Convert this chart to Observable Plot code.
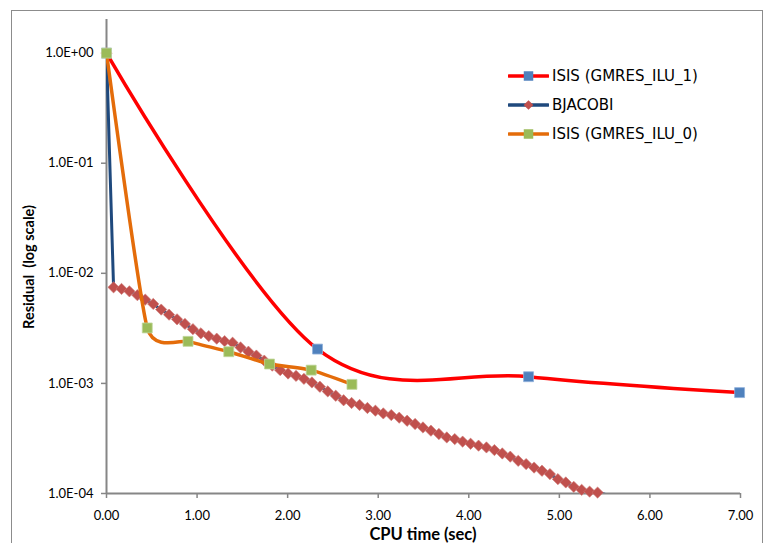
<!DOCTYPE html>
<html><head><meta charset="utf-8">
<script src="https://cdn.jsdelivr.net/npm/d3@7"></script>
<script src="https://cdn.jsdelivr.net/npm/@observablehq/plot@0.6"></script>
<style>
html,body{margin:0;padding:0;}
body{width:765px;height:543px;overflow:hidden;background:#fff;position:relative;font-family:Lato,"Open Sans",sans-serif;}
#frame{position:absolute;left:11px;top:10px;width:752px;height:560px;border:1px solid #8c8c8c;box-sizing:border-box;}
#chart{position:absolute;left:0;top:0;}
#ytitle{position:absolute;left:28px;top:267px;transform:translate(-50%,-50%) rotate(-90deg);font-weight:bold;font-size:14.5px;white-space:pre;}
#xtitle{position:absolute;left:423px;top:534px;transform:translate(-50%,-50%);font-weight:bold;font-size:16.5px;white-space:pre;}
#legend{position:absolute;left:508px;top:61px;font-size:15px;font-family:"DejaVu Sans",sans-serif;}
.item{display:flex;align-items:center;height:29px;}
.item svg{margin-right:3px;}
</style></head><body>
<div id="frame"></div>
<div id="chart"></div>
<div id="ytitle">Residual  (log scale)</div>
<div id="xtitle">CPU time (sec)</div>
<div id="legend"></div>
<script>
const seriesNames = ["ISIS (GMRES_ILU_1)", "BJACOBI", "ISIS (GMRES_ILU_0)"];
const lineColors = ["#FF0000", "#1F497D", "#E46C0A"];
const markerColors = ["#4F81BD", "#C0504D", "#9BBB59"];

const isis1Time = [0, 2.33, 4.66, 6.99];
const isis1Residual = [1.0, 2.05e-3, 1.15e-3, 8.25e-4];

const bjacobiTime = [0, 0.078, 0.166, 0.253, 0.341, 0.428, 0.516, 0.604, 0.691, 0.779, 0.866,
  0.954, 1.042, 1.129, 1.217, 1.304, 1.392, 1.480, 1.567, 1.655, 1.742,
  1.830, 1.918, 2.005, 2.093, 2.180, 2.268, 2.356, 2.443, 2.531, 2.618,
  2.706, 2.794, 2.881, 2.969, 3.056, 3.144, 3.232, 3.319, 3.407, 3.494,
  3.582, 3.670, 3.757, 3.845, 3.932, 4.020, 4.108, 4.195, 4.283, 4.370,
  4.458, 4.546, 4.633, 4.721, 4.808, 4.896, 4.984, 5.071, 5.159, 5.246,
  5.334, 5.422, 5.509, 5.597];
const bjacobiResidual = [1.0, 7.46e-3, 7.21e-3, 6.86e-3, 6.33e-3, 5.77e-3, 5.27e-3, 4.68e-3, 4.21e-3, 3.82e-3, 3.47e-3,
  3.11e-3, 2.85e-3, 2.69e-3, 2.55e-3, 2.42e-3, 2.34e-3, 2.12e-3, 1.94e-3, 1.79e-3, 1.61e-3,
  1.45e-3, 1.32e-3, 1.23e-3, 1.17e-3, 1.10e-3, 1.02e-3, 9.33e-4, 8.46e-4, 7.73e-4, 7.03e-4,
  6.64e-4, 6.37e-4, 5.98e-4, 5.65e-4, 5.34e-4, 5.16e-4, 4.88e-4, 4.58e-4, 4.28e-4, 3.98e-4,
  3.72e-4, 3.47e-4, 3.23e-4, 3.12e-4, 2.96e-4, 2.83e-4, 2.72e-4, 2.62e-4, 2.48e-4, 2.31e-4,
  2.16e-4, 1.98e-4, 1.85e-4, 1.72e-4, 1.61e-4, 1.50e-4, 1.35e-4, 1.26e-4, 1.15e-4, 1.08e-4,
  1.04e-4, 1.02e-4, 9.8e-5, 9.0e-5];

const isis0Time = [0, 0.45, 0.90, 1.35, 1.80, 2.26, 2.71];
const isis0Residual = [1.0, 3.19e-3, 2.41e-3, 1.94e-3, 1.50e-3, 1.32e-3, 9.8e-4];

const xTicks = [0, 1, 2, 3, 4, 5, 6, 7];
const xTickLabels = ["0.00", "1.00", "2.00", "3.00", "4.00", "5.00", "6.00", "7.00"];
const yTicks = [1e-4, 1e-3, 1e-2, 1e-1, 1];
const yTickLabels = ["1.0E-04", "1.0E-03", "1.0E-02", "1.0E-01", "1.0E+00"];

const toRows = (t, r) => t.map((x, i) => ({x, y: r[i]}));
const isis1 = toRows(isis1Time, isis1Residual);
const bjacobi = toRows(bjacobiTime, bjacobiResidual);
const isis0 = toRows(isis0Time, isis0Residual);
const inside = d => d.y >= 1e-4;

const axisGray = "#868686";
const chart = Plot.plot({
  width: 765, height: 543,
  marginLeft: 106, marginRight: 25, marginTop: 19, marginBottom: 50,
  style: {fontFamily: "Lato, 'Open Sans', sans-serif", fontSize: "13px", color: "#000", background: "transparent"},
  x: {domain: [0, 7]},
  y: {type: "log", domain: [1e-4, 2.02]},
  marks: [
    Plot.axisX({ticks: xTicks, tickFormat: d => xTickLabels[xTicks.indexOf(d)], tickSize: 5, tickPadding: 12, stroke: axisGray, strokeWidth: 1.5, fill: "#000", label: null}),
    Plot.axisY({ticks: yTicks, tickFormat: d => yTickLabels[yTicks.indexOf(d)], tickSize: 5, tickPadding: 8, stroke: axisGray, strokeWidth: 1.5, fill: "#000", label: null}),
    Plot.ruleY([1e-4], {stroke: axisGray, strokeWidth: 2}),
    Plot.ruleX([0], {stroke: axisGray, strokeWidth: 2}),
    Plot.line(isis1, {x: "x", y: "y", stroke: lineColors[0], strokeWidth: 3.5, curve: "cardinal", clip: true}),
    Plot.dot(isis1.filter(inside), {x: "x", y: "y", symbol: "square", r: 5.6, fill: markerColors[0], stroke: "#8fb0da", strokeWidth: 0.8}),
    Plot.line(bjacobi, {x: "x", y: "y", stroke: lineColors[1], strokeWidth: 3, clip: true}),
    Plot.dot(bjacobi.filter(inside), {x: "x", y: "y", symbol: "diamond2", r: 5.1, fill: markerColors[1], stroke: "#cf7a77", strokeWidth: 0.6}),
    Plot.line(isis0, {x: "x", y: "y", stroke: lineColors[2], strokeWidth: 3.5, curve: d3.curveCardinal.tension(0.5), clip: true}),
    Plot.dot(isis0.filter(inside), {x: "x", y: "y", symbol: "square", r: 5.6, fill: markerColors[2], stroke: "#bfd69a", strokeWidth: 0.8})
  ]
});
document.getElementById("chart").appendChild(chart);

// legend
const legend = d3.select("#legend");
const symbols = [d3.symbolSquare, d3.symbolDiamond2, d3.symbolSquare];
const sizes = [90, 60, 90];
seriesNames.forEach((name, i) => {
  const item = legend.append("div").attr("class", "item");
  const svg = item.append("svg").attr("width", 41).attr("height", 14);
  svg.append("line").attr("x1", 1).attr("x2", 40).attr("y1", 7).attr("y2", 7)
    .attr("stroke", lineColors[i]).attr("stroke-width", 3.5).attr("stroke-linecap", "round");
  svg.append("path").attr("d", d3.symbol(symbols[i], sizes[i])()).attr("transform", "translate(20.5,7)")
    .attr("fill", markerColors[i]);
  item.append("span").text(name);
});
</script>
</body></html>
